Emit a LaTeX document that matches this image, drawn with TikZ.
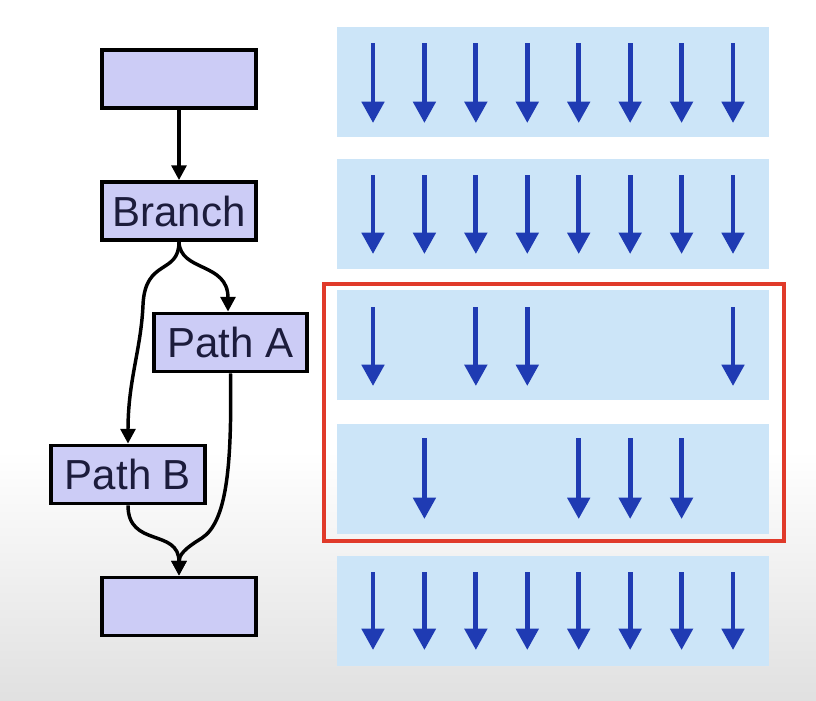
\documentclass[tikz,border=0pt]{standalone}
\usepackage{fontspec}
\setmainfont{Liberation Sans}
\usetikzlibrary{arrows.meta}
\definecolor{boxfill}{HTML}{CCCCF6}
\definecolor{panelc}{HTML}{CCE5F8}
\definecolor{arrblue}{HTML}{1F3BB3}
\definecolor{framec}{HTML}{E03A2A}
\definecolor{txt}{HTML}{1C1C3C}
\begin{document}
\begin{tikzpicture}[x=0.75pt,y=-0.75pt,
  blk/.style={draw=black, line width=2.8pt, fill=boxfill, minimum width=115pt, minimum height=43.5pt, inner sep=0pt, font=\fontsize{31.5}{36}\selectfont, text=txt},
  flow/.style={line width=2.6pt, -{Triangle[width=11pt,length=11pt]}},
  pnl/.style={fill=panelc, draw=none, minimum width=324pt, minimum height=82.5pt, inner sep=0pt},
  lane/.style={arrblue, line width=3.6pt, -{Triangle[width=16.5pt,length=16pt]}},
  selbox/.style={draw=framec, line width=2.6pt, minimum width=345pt, minimum height=193pt, inner sep=0pt}]
\useasboundingbox (0,0) rectangle (816,700);
\fill[white] (0,0) rectangle (816,700);
\shade[top color=white, bottom color=black!12] (0,450) rectangle (816,700);

% panels
\node[pnl] (p1) at (553,82) {};
\node[pnl] (p2) at (553,214) {};
\node[pnl] (p3) at (553,345) {};
\node[pnl] (p4) at (553,479) {};
\node[pnl] (p5) at (553,611) {};
\node[selbox] (sel) at (554,412.5) {};

% lane arrows
\foreach \i in {0,...,7} {
  \draw[lane] ({373+51.43*\i},43) -- ({373+51.43*\i},123);
  \draw[lane] ({373+51.43*\i},175) -- ({373+51.43*\i},254);
  \draw[lane] ({373+51.43*\i},572) -- ({373+51.43*\i},650);
}
\foreach \i in {0,2,3,7}
  \draw[lane] ({373+51.43*\i},307) -- ({373+51.43*\i},386);
\foreach \i in {1,4,5,6}
  \draw[lane] ({373+51.43*\i},438) -- ({373+51.43*\i},519);

% flow boxes
\node[blk] (top) at (179,79) {};
\node[blk] (br) at (179,211) {Branch};
\node[blk] (pa) at (230.5,342.5) {Path A};
\node[blk] (pb) at (128,474.5) {Path B};
\node[blk] (bot) at (179,606.5) {};

\draw[flow] (top) -- (br);
\draw[flow] (br.south) .. controls (180,272) and (228,262) .. (pa.north -| 228,0);
\draw[flow] (br.south) .. controls (179,275) and (145,258) .. (143,305)
  .. controls (141,350) and (128,380) .. (pb.north);
\draw[flow] (pb.south) .. controls (128,548) and (179,528) .. (bot.north);
\draw[flow] (pa.south) .. controls (232,470) and (226,522) .. (202,538)
  .. controls (184,549) and (179,555) .. (bot.north);
\end{tikzpicture}
\end{document}
